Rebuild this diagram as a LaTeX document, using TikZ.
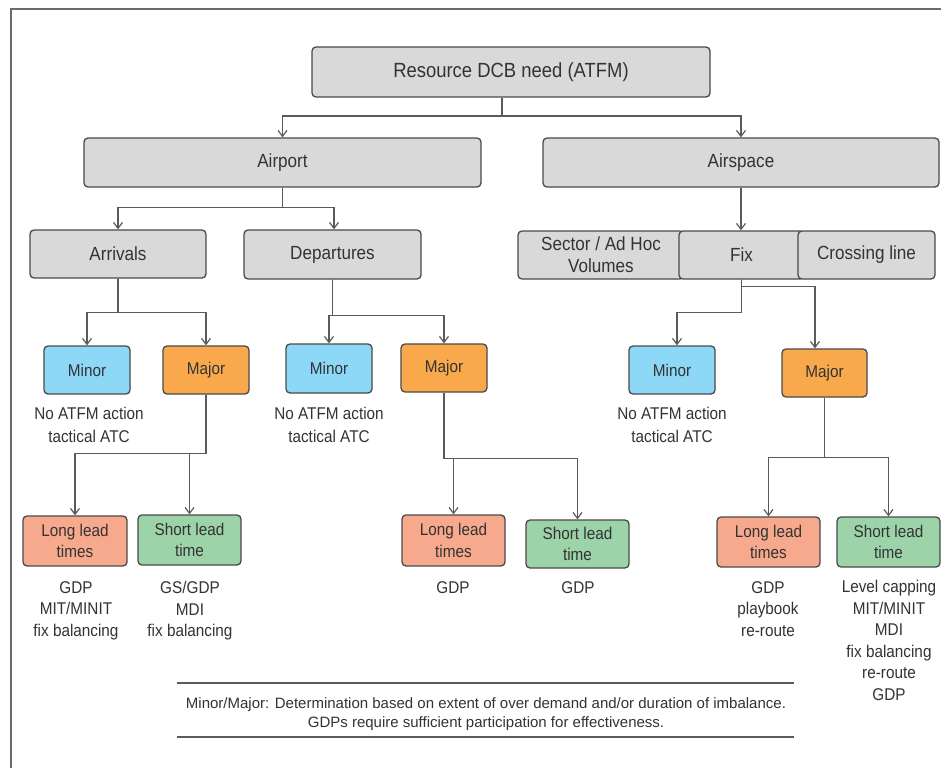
\documentclass[tikz,border=0pt]{standalone}
\usepackage{fontspec}
\setmainfont[FakeStretch=0.9]{Liberation Sans}
\newfontfamily\fnfont{Liberation Sans}
\usetikzlibrary{arrows.meta}
\definecolor{boxgray}{HTML}{D9D9D9}
\definecolor{edgecol}{HTML}{4A4A4A}
\definecolor{minorcol}{HTML}{8DD7F7}
\definecolor{majorcol}{HTML}{F9A94C}
\definecolor{longcol}{HTML}{F6A98D}
\definecolor{shortcol}{HTML}{9CD3A9}
\definecolor{conncol}{HTML}{5A5A5A}
\definecolor{txtcol}{HTML}{333333}
\definecolor{framecol}{HTML}{6A6A6A}
\begin{document}
\begin{tikzpicture}[x=1pt,y=-1pt,
  every node/.style={text=txtcol},
  box/.style={draw=edgecol, line width=1.3pt, rounded corners=4pt, inner sep=0pt, align=center},
  gbox/.style={box, fill=boxgray, font=\fontsize{19}{22}\selectfont},
  sbox/.style={box, font=\fontsize{17}{21.5}\selectfont, minimum height=48pt, minimum width=86pt},
  minorbox/.style={sbox, fill=minorcol},
  majorbox/.style={sbox, fill=majorcol},
  longbox/.style={sbox, fill=longcol, minimum width=103pt, minimum height=50pt},
  shortbox/.style={sbox, fill=shortcol, minimum width=103pt, minimum height=50pt},
  note/.style={inner sep=0pt, align=center, anchor=north, font=\fontsize{17}{21.5}\selectfont},
  conn/.style={draw=conncol, line width=1.2pt},
  arr/.style={conn, -{Straight Barb[length=6pt,width=9pt]}},
]
\useasboundingbox (0,0) rectangle (941,768);
\fill[white] (0,0) rectangle (941,768);
% frame
\draw[framecol, line width=1.5pt] (11,768) -- (11,9) -- (941,9);

% top levels
\node[gbox, minimum width=398pt, minimum height=50pt, font=\fontsize{20.5}{24}\selectfont] (root) at (511,72) {Resource DCB need (ATFM)};
\node[gbox, minimum width=397pt, minimum height=49pt] (airport) at (282.5,162.5) {Airport};
\node[gbox, minimum width=396pt, minimum height=49pt] (airspace) at (741,162.5) {Airspace};

\node[gbox, minimum width=176pt, minimum height=48pt] (arrivals) at (118,254) {Arrivals};
\node[gbox, minimum width=177pt, minimum height=49pt] (departures) at (332.5,254.5) {Departures};
\node[gbox, minimum width=166pt, minimum height=48pt] (sector) at (601,255) {Sector / Ad Hoc\\Volumes};
\node[gbox, minimum width=125pt, minimum height=48pt] (fix) at (741.5,255) {Fix};
\node[gbox, minimum width=137pt, minimum height=48pt] (crossing) at (866.5,255) {Crossing line};

% minor / major
\node[minorbox] (minA) at (87,370) {Minor};
\node[majorbox] (majA) at (206,370) {Major};
\node[minorbox, minimum height=49pt] (minD) at (329,368.5) {Minor};
\node[majorbox] (majD) at (444,368) {Major};
\node[minorbox] (minS) at (672,370) {Minor};
\node[majorbox, minimum width=85pt] (majS) at (824.5,373) {Major};

% lead time boxes
\node[longbox, minimum width=104pt] (longA) at (75,541) {Long lead\\times};
\node[shortbox] (shortA) at (189.5,540) {Short lead\\time};
\node[longbox, minimum height=51pt] (longD) at (453.5,540.5) {Long lead\\times};
\node[shortbox, minimum height=48pt] (shortD) at (577.5,544) {Short lead\\time};
\node[longbox] (longS) at (768.5,542) {Long lead\\times};
\node[shortbox] (shortS) at (888.5,542) {Short lead\\time};

% notes
\node[note, font=\fontsize{17}{23}\selectfont] (tminA) at (89,407) {No ATFM action\\tactical ATC};
\node[note, font=\fontsize{17}{23}\selectfont] (tminD) at (329,407) {No ATFM action\\tactical ATC};
\node[note, font=\fontsize{17}{23}\selectfont] (tminS) at (672,407) {No ATFM action\\tactical ATC};
\node[note] (tlongA) at (76,581) {GDP\\MIT/MINIT\\fix balancing};
\node[note] (tshortA) at (190,581) {GS/GDP\\MDI\\fix balancing};
\node[note] (tlongD) at (453,581) {GDP};
\node[note] (tshortD) at (578,581) {GDP};
\node[note] (tlongS) at (768,581) {GDP\\playbook\\re-route};
\node[note] (tshortS) at (889,580) {Level capping\\MIT/MINIT\\MDI\\fix balancing\\re-route\\GDP};

% connectors
\coordinate (j0) at (502,116);
\draw[conn] ([xshift=-9pt]root.south) -- (j0);
\draw[arr] (j0) -| (airport.north);
\draw[arr] (j0) -| (airspace.north);

\draw[arr] (airport.south) -- ++(0,20) -| (arrivals.north);
\draw[arr] (airport.south) -- ++(0,20) -| ([xshift=1.5pt]departures.north);

\draw[arr] (airspace.south) -- (airspace.south |- fix.north);

\draw[arr] (arrivals.south) -- ++(0,34) -| (minA.north);
\draw[arr] (arrivals.south) -- ++(0,34) -| (majA.north);
\draw[arr] (departures.south) -- ++(0,36) -| (minD.north);
\draw[arr] (departures.south) -- ++(0,36) -| (majD.north);
\draw[arr] (fix.south) -- ++(0,33) -| ([xshift=5pt]minS.north);
\draw[arr] (fix.south) -- ++(0,7) -| ([xshift=-9.5pt]majS.north);

\coordinate (jA) at ([yshift=-59pt]majA.south);
\draw[arr] (majA.south) |- (longA.north |- jA) -- (longA.north);
\draw[arr] (shortA.north |- jA) -- (shortA.north);

\coordinate (jD) at ([yshift=-66pt]majD.south);
\draw[arr] (majD.south) |- (shortD.north |- jD) -- (shortD.north);
\draw[arr] (longD.north |- jD) -- (longD.north);

\coordinate (jS) at ([yshift=-60pt]majS.south);
\draw[conn] (majS.south) -- (jS);
\draw[arr] (jS) -| (longS.north);
\draw[arr] (jS) -| (shortS.north);

% footnote
\draw[conncol, line width=1.3pt] (177,683) -- (794,683);
\draw[conncol, line width=1.3pt] (177,737) -- (794,737);
\node[inner sep=0pt, align=center, anchor=north, font=\fnfont\fontsize{15}{19}\selectfont] (foot) at (486,697)
  {Minor/Major: Determination based on extent of over demand and/or duration of imbalance.\\GDPs require sufficient participation for effectiveness.};
\end{tikzpicture}
\end{document}
